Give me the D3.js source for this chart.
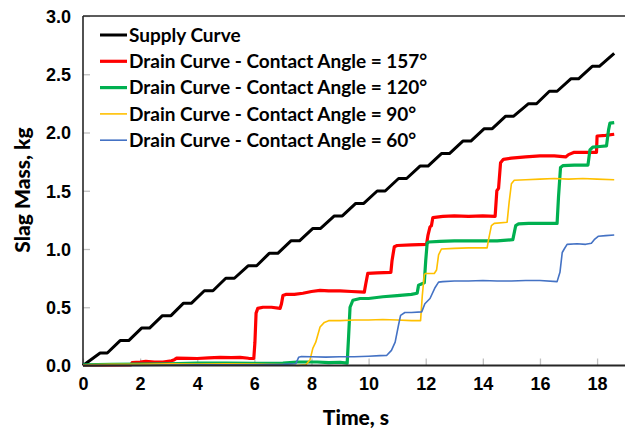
<!DOCTYPE html>
<html>
<head>
<meta charset="utf-8">
<script src="https://cdn.jsdelivr.net/npm/d3@7"></script>
<style>
  html, body { margin: 0; padding: 0; background: #fff; }
  svg { display: block; font-family: Lato, "Open Sans", sans-serif; }
</style>
</head>
<body>
<svg id="chart" width="625" height="430"></svg>
<script>
// Time [s] / slag mass [kg] samples for each curve
const supplyCurve = [
  [0,0],[0.6,0.107],[0.85,0.107],[1.3,0.214],[1.6,0.214],[2.05,0.321],[2.33,0.321],
  [2.78,0.428],[3.08,0.428],[3.52,0.535],[3.8,0.535],[4.25,0.642],[4.55,0.642],
  [5.0,0.749],[5.3,0.749],[5.78,0.856],[6.08,0.856],[6.52,0.963],[6.82,0.963],
  [7.28,1.07],[7.58,1.07],[8.05,1.177],[8.32,1.177],[8.8,1.284],[9.08,1.284],
  [9.55,1.391],[9.83,1.391],[10.3,1.498],[10.58,1.498],[11.05,1.605],[11.33,1.605],
  [11.8,1.712],[12.08,1.712],[12.55,1.819],[12.83,1.819],[13.3,1.926],[13.58,1.926],
  [14.05,2.033],[14.33,2.033],[14.8,2.14],[15.08,2.14],[15.6,2.247],[15.88,2.247],
  [16.33,2.354],[16.6,2.354],[17.08,2.461],[17.35,2.461],[17.83,2.568],[18.08,2.568],
  [18.6,2.68]
];

const drain157 = [
  [0,0],[1.68,0.005],[1.72,0.025],[2.0,0.03],[2.2,0.035],[2.5,0.03],[2.8,0.03],
  [3.1,0.04],[3.2,0.05],[3.28,0.063],[3.7,0.062],[4.0,0.06],[4.4,0.065],[4.8,0.07],
  [5.2,0.068],[5.5,0.07],[5.8,0.062],[5.98,0.06],[6.02,0.2],[6.06,0.45],[6.12,0.49],
  [6.3,0.5],[6.6,0.5],[6.9,0.49],[6.95,0.53],[7.0,0.6],[7.1,0.61],[7.4,0.61],
  [7.7,0.62],[8.0,0.635],[8.3,0.645],[8.6,0.64],[9.0,0.64],[9.4,0.635],[9.85,0.63],
  [9.9,0.7],[9.97,0.79],[10.3,0.795],[10.78,0.8],[10.82,0.9],[10.9,1.02],[11.0,1.03],
  [11.5,1.035],[12.03,1.04],[12.08,1.12],[12.15,1.19],[12.2,1.2],[12.25,1.27],
  [12.6,1.28],[13.0,1.285],[13.5,1.28],[14.0,1.285],[14.43,1.28],[14.49,1.5],
  [14.55,1.52],[14.62,1.74],[14.72,1.77],[15.0,1.78],[15.5,1.79],[16.0,1.8],
  [16.5,1.8],[16.9,1.79],[17.0,1.81],[17.2,1.83],[17.6,1.83],[17.98,1.83],
  [18.0,1.97],[18.3,1.975],[18.6,1.985]
];

const drain120 = [
  [0,0.005],[1,0.01],[2,0.012],[3,0.015],[4,0.02],[5,0.02],[6,0.018],[7,0.02],
  [7.5,0.03],[8.2,0.03],[8.6,0.025],[9.0,0.028],[9.25,0.02],[9.3,0.25],[9.35,0.5],
  [9.45,0.56],[9.7,0.575],[10.0,0.575],[10.5,0.59],[11.0,0.6],[11.5,0.61],[11.7,0.62],
  [11.75,0.69],[11.85,0.7],[11.95,0.71],[12.0,0.9],[12.05,1.05],[12.1,1.06],
  [12.5,1.065],[13.0,1.07],[13.5,1.07],[14.0,1.07],[14.5,1.07],[15.05,1.08],
  [15.15,1.2],[15.25,1.215],[15.6,1.22],[16.0,1.22],[16.6,1.22],[16.65,1.45],
  [16.72,1.7],[16.8,1.715],[17.2,1.72],[17.68,1.72],[17.75,1.85],[17.85,1.875],
  [18.1,1.88],[18.33,1.885],[18.4,2.02],[18.45,2.08],[18.6,2.085]
];

const drain90 = [
  [0,0.005],[1,0.01],[2,0.01],[3,0.015],[4,0.012],[5,0.015],[6,0.012],[7,0.008],
  [7.5,0.0],[7.8,0.005],[7.95,0.05],[8.05,0.15],[8.15,0.2],[8.3,0.33],[8.45,0.37],
  [8.6,0.385],[9.0,0.385],[9.5,0.39],[10.0,0.39],[10.5,0.395],[11.0,0.39],
  [11.5,0.385],[11.82,0.385],[11.88,0.6],[11.95,0.78],[12.0,0.79],[12.3,0.79],
  [12.38,0.82],[12.45,0.95],[12.55,1.0],[13.0,1.005],[13.5,1.01],[14.15,1.01],
  [14.2,1.08],[14.3,1.2],[14.4,1.22],[14.85,1.23],[14.92,1.4],[15.0,1.56],
  [15.1,1.59],[15.5,1.595],[16.0,1.6],[16.5,1.605],[17.0,1.6],[17.5,1.605],
  [18.0,1.6],[18.6,1.595]
];

const drain60 = [
  [0,0.0],[2,0.0],[4,0.005],[6,0.005],[7.0,0.01],[7.45,0.015],[7.55,0.07],
  [7.65,0.077],[8.0,0.075],[8.5,0.072],[9.0,0.075],[9.5,0.075],[10.0,0.08],
  [10.4,0.085],[10.63,0.086],[10.8,0.13],[10.93,0.2],[11.05,0.35],[11.12,0.43],
  [11.27,0.455],[11.5,0.455],[11.86,0.46],[11.97,0.53],[12.15,0.575],[12.33,0.67],
  [12.45,0.716],[12.6,0.72],[13.0,0.725],[13.5,0.725],[14.0,0.73],[14.5,0.725],
  [15.0,0.725],[15.5,0.73],[16.0,0.73],[16.6,0.72],[16.7,0.8],[16.78,0.97],
  [16.85,1.0],[16.95,1.04],[17.3,1.045],[17.6,1.04],[17.8,1.05],[17.9,1.08],
  [18.05,1.11],[18.3,1.115],[18.6,1.12]
];

const seriesNames = [
  "Supply Curve",
  "Drain Curve - Contact Angle = 157°",
  "Drain Curve - Contact Angle = 120°",
  "Drain Curve - Contact Angle = 90°",
  "Drain Curve - Contact Angle = 60°"
];
const seriesData = [supplyCurve, drain157, drain120, drain90, drain60];
const seriesColors = ["#000000", "#FF0000", "#00B050", "#FFC000", "#4472C4"];
const seriesWidths = [3, 3.2, 3.2, 1.6, 1.6];

const xTicks = [0, 2, 4, 6, 8, 10, 12, 14, 16, 18];
const yTicks = [0, 0.5, 1.0, 1.5, 2.0, 2.5, 3.0];

const svg = d3.select("#chart");
const plotLeft = 83, plotTop = 16, plotBottom = 365.5;

const x = d3.scaleLinear().domain([0, 19.5]).range([plotLeft, plotLeft + 19.5 * 28.56]);
const y = d3.scaleLinear().domain([0, 3]).range([plotBottom, plotTop]);

// inner ticks in light grey, no gridlines
const xAxis = d3.axisBottom(x).tickValues(xTicks).tickSize(-7).tickPadding(12)
  .tickFormat(d3.format("d"));
const yAxis = d3.axisLeft(y).tickValues(yTicks).tickSize(-7).tickPadding(12)
  .tickFormat(d3.format(".1f"));

const gx = svg.append("g").attr("transform", `translate(0,${plotBottom})`).call(xAxis);
const gy = svg.append("g").attr("transform", `translate(${plotLeft},0)`).call(yAxis);

[gx, gy].forEach(g => {
  g.select(".domain").remove();
  g.selectAll(".tick line").attr("stroke", "#c0c0c0").attr("stroke-width", 1.3);
  g.selectAll(".tick text")
    .attr("fill", "#000")
    .style("font-size", "18px")
    .style("font-weight", "900");
});
gx.selectAll(".tick text").attr("dy", "0.71em");
gy.selectAll(".tick text").attr("dy", "0.36em");

// plot frame lines
svg.append("line").attr("x1", plotLeft).attr("x2", 625).attr("y1", plotTop).attr("y2", plotTop)
  .attr("stroke", "#262626").attr("stroke-width", 1.6);
svg.append("line").attr("x1", plotLeft).attr("x2", plotLeft).attr("y1", plotTop).attr("y2", plotBottom)
  .attr("stroke", "#262626").attr("stroke-width", 1.6);

// curves
const line = d3.line().x(d => x(d[0])).y(d => y(d[1]));
seriesData.forEach((data, i) => {
  svg.append("path")
    .datum(data)
    .attr("fill", "none")
    .attr("stroke", seriesColors[i])
    .attr("stroke-width", seriesWidths[i])
    .attr("stroke-linejoin", "round")
    .attr("d", line);
});

svg.append("line").attr("x1", plotLeft).attr("x2", 625).attr("y1", plotBottom).attr("y2", plotBottom)
  .attr("stroke", "#262626").attr("stroke-width", 1.8);

// legend
const legend = svg.append("g");
seriesNames.forEach((name, i) => {
  const ly = 35 + i * 26.3;
  legend.append("line")
    .attr("x1", 100).attr("x2", 127).attr("y1", ly).attr("y2", ly)
    .attr("stroke", seriesColors[i]).attr("stroke-width", seriesWidths[i]);
  legend.append("text")
    .attr("x", 129).attr("y", ly).attr("dy", "0.36em")
    .style("font-size", "19px").style("font-weight", "bold")
    .text(name);
});

// axis titles
svg.append("text")
  .attr("x", 356).attr("y", 417).attr("dy", "0.36em")
  .attr("text-anchor", "middle")
  .style("font-size", "21px").style("font-weight", "900")
  .text("Time, s");
svg.append("text")
  .attr("transform", "translate(22,190) rotate(-90)")
  .attr("dy", "0.36em")
  .attr("text-anchor", "middle")
  .style("font-size", "21px").style("font-weight", "900")
  .text("Slag Mass, kg");
</script>
</body>
</html>
